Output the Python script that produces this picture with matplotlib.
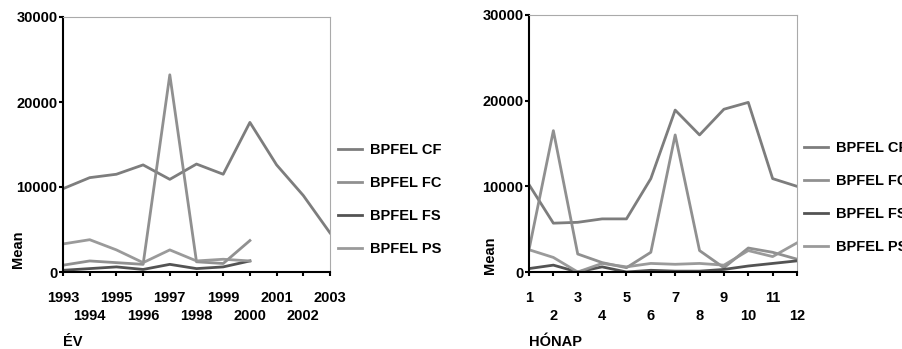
import matplotlib
matplotlib.use("Agg")
import matplotlib.pyplot as plt

plt.rcParams['font.family'] = ['Liberation Sans', 'DejaVu Sans']
plt.rcParams['font.weight'] = 'bold'

# by year
years = list(range(1993, 2004))
ev_cf = [9800, 11100, 11500, 12600, 10900, 12700, 11500, 17600, 12600, 9000, 4600]
ev_fc = [800, 1300, 1100, 900, 23200, 1200, 1000, 3700]
ev_fs = [200, 400, 600, 300, 900, 400, 600, 1300]
ev_ps = [3300, 3800, 2600, 1100, 2600, 1300, 1500, 1300]

# by month
months = list(range(1, 13))
ho_cf = [10200, 5700, 5800, 6200, 6200, 10900, 18900, 16000, 19000, 19800, 10900, 10000]
ho_fc = [2600, 16500, 2100, 1100, 500, 2300, 16000, 2500, 500, 2800, 2300, 1500]
ho_fs = [400, 800, 0, 600, 0, 200, 100, 100, 300, 700, 1000, 1300]
ho_ps = [2600, 1700, 0, 1000, 600, 1000, 900, 1000, 800, 2500, 1800, 3400]

names = ['BPFEL CF', 'BPFEL FC', 'BPFEL FS', 'BPFEL PS']
colors = ['#767676', '#8a8a8a', '#4a4a4a', '#959595']

W, H = 903, 349
FS = 10.5
fig = plt.figure(figsize=(W / 100, H / 100), dpi=100)


def panel(rect, xs, series, xlab, ylab_xy, leg_anchor):
    ax = fig.add_axes([rect[0] / W, (H - rect[3]) / H,
                       (rect[2] - rect[0]) / W, (rect[3] - rect[1]) / H])
    for ys, c, n in zip(series, colors, names):
        ax.plot(xs[:len(ys)], ys, color=c, lw=2.0, label=n, alpha=0.95)
    ax.set_xlim(xs[0], xs[-1])
    ax.set_ylim(0, 30000)
    ax.set_yticks([0, 10000, 20000, 30000])
    # alternate tick labels on two rows: major = upper row, minor = lower row
    ax.set_xticks(xs[0::2])
    ax.set_xticklabels([str(v) for v in xs[0::2]])
    ax.set_xticks(xs[1::2], minor=True)
    ax.set_xticklabels([str(v) for v in xs[1::2]], minor=True)
    ax.tick_params(axis='x', which='major', length=3, width=1.5, pad=11, labelsize=FS)
    ax.tick_params(axis='x', which='minor', length=3, width=1.5, pad=24, labelsize=FS)
    ax.tick_params(axis='y', length=3, width=1.5, pad=1, labelsize=FS)
    for s in ['top', 'right']:
        ax.spines[s].set_color('#aaaaaa')
        ax.spines[s].set_linewidth(0.8)
    for s in ['left', 'bottom']:
        ax.spines[s].set_color('black')
        ax.spines[s].set_linewidth(1.5)
    ax.set_ylabel('Mean', fontsize=FS, fontweight='bold')
    ax.yaxis.set_label_coords(*ylab_xy)
    fig.text(rect[0] / W, 1 - 346 / H, xlab, fontsize=FS, fontweight='bold',
             va='baseline', ha='left')
    ax.legend(loc='upper left', bbox_to_anchor=leg_anchor, frameon=False,
              fontsize=FS, handlelength=1.65, handletextpad=0.55,
              labelspacing=1.3, borderaxespad=0, borderpad=0)
    return ax


panel((63, 17, 330, 272), years, [ev_cf, ev_fc, ev_fs, ev_ps], 'ÉV',
      (-0.142, 0.09), (1.03, (272 - 143) / 255))
panel((529, 15, 797, 272), months, [ho_cf, ho_fc, ho_fs, ho_ps], 'HÓNAP',
      (-0.12, 0.065), (1.027, (272 - 141) / 257))

fig.savefig('out.png', dpi=100)
